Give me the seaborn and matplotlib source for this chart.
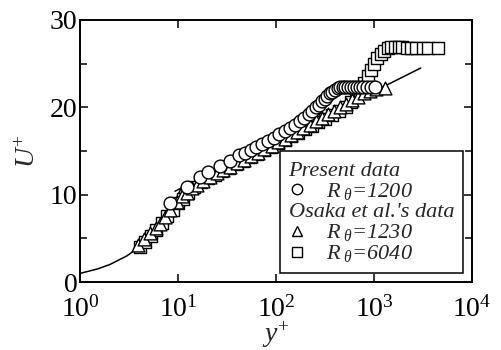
import numpy as np
import pandas as pd
import matplotlib
matplotlib.use("Agg")
import matplotlib.pyplot as plt
from matplotlib.lines import Line2D
from matplotlib.ticker import MultipleLocator, NullLocator, FixedLocator
import seaborn as sns

# data
visc_y = [1.0, 1.5, 2.0, 3.0, 4.0, 5.0, 6.0, 7.0, 8.0, 9.0, 10.0, 11.0]
visc_u = [1.0, 1.5, 2.0, 3.0, 4.0, 5.0, 6.0, 7.0, 8.0, 9.0, 10.0, 11.0]

log_y = [9.3, 3000.0]
log_u = [10.4, 24.5]

circ_y = [8.3, 12.3, 16.7, 20.4, 26.8, 34, 41.5, 48, 55, 63, 72, 82, 95, 108, 122,
          138, 155, 175, 195, 215, 235, 255, 275, 295, 315, 335, 355, 375, 400,
          425, 450, 480, 510, 545, 580, 620, 670, 720, 780, 850, 930, 1020]
circ_u = [9.1, 10.9, 12.0, 12.6, 13.3, 13.9, 14.5, 14.8, 15.1, 15.5, 15.8, 16.1,
          16.5, 16.9, 17.3, 17.6, 18.0, 18.4, 18.8, 19.2, 19.6, 20.0, 20.3, 20.7,
          21.0, 21.3, 21.6, 21.8, 22.0, 22.2, 22.3, 22.3, 22.3, 22.3, 22.3, 22.3,
          22.3, 22.3, 22.3, 22.3, 22.3, 22.3]

tri_y = [3.9, 4.5, 5.2, 5.9, 6.5, 7.4, 8.3, 9.7, 11, 12.3, 14, 15.5, 18, 21, 25, 29,
         34, 40, 47, 55, 65, 76, 90, 105, 122, 142, 165, 190, 220, 255, 295, 340,
         390, 450, 520, 600, 690, 790, 900, 1050, 1290]
tri_u = [4.2, 4.9, 5.6, 6.2, 6.7, 7.5, 8.2, 9.2, 9.8, 10.2, 10.8, 11.1, 11.6, 12.0,
         12.5, 12.8, 13.2, 13.6, 14.0, 14.4, 14.8, 15.2, 15.6, 16.0, 16.4, 16.8,
         17.2, 17.6, 18.0, 18.4, 18.8, 19.2, 19.6, 20.0, 20.4, 20.8, 21.2, 21.6,
         21.9, 22.1, 22.2]

sq_y = [4.1, 4.6, 5.3, 6.0, 6.8, 7.7, 8.8, 10, 11.2, 12.7, 14.5, 17, 20, 24, 28, 33,
        39, 46, 54, 64, 75, 88, 104, 122, 143, 168, 197, 231, 271, 318, 373, 437,
        513, 580, 650, 720, 790, 860, 930, 1000, 1080, 1170, 1270, 1380, 1500,
        1620, 1780, 1950, 2150, 2400, 2700, 3200, 3550, 4500]
sq_u = [4.0, 4.6, 5.3, 6.0, 6.8, 7.6, 8.3, 9.0, 9.5, 10.2, 10.9, 11.4, 11.9, 12.3,
        12.7, 13.1, 13.5, 13.9, 14.3, 14.7, 15.1, 15.5, 15.9, 16.3, 16.7, 17.1,
        17.5, 17.9, 18.3, 18.7, 19.1, 19.6, 20.0, 20.6, 21.3, 22.0, 22.8, 23.6,
        24.3, 25.0, 25.6, 26.1, 26.5, 26.8, 26.9, 26.9, 26.9, 26.9, 26.8, 26.8,
        26.8, 26.8, 26.8, 26.8]

x_ticks = [1, 10, 100, 1000, 10000]

sns.set_theme(style="ticks")
plt.rcParams['font.family'] = ['Liberation Serif', 'DejaVu Serif']
plt.rcParams['mathtext.fontset'] = 'custom'
plt.rcParams['mathtext.rm'] = 'Liberation Serif'
plt.rcParams['mathtext.it'] = 'Liberation Serif:italic'
plt.rcParams['mathtext.bf'] = 'Liberation Serif:bold'

fig = plt.figure(figsize=(5.01, 3.5), dpi=100)
ax = fig.add_axes([0.160, 0.194, 0.782, 0.749])

sns.lineplot(x=visc_y, y=visc_u, ax=ax, color='black', lw=1.1, sort=False, estimator=None)
sns.lineplot(x=log_y, y=log_u, ax=ax, color='black', lw=1.1, sort=False, estimator=None)

mk = dict(facecolor='white', edgecolor='black', linewidth=1.0, s=85, ax=ax, zorder=3)
sns.scatterplot(x=sq_y, y=sq_u, marker='s', **mk)
sns.scatterplot(x=tri_y, y=tri_u, marker='^', **mk)
sns.scatterplot(x=circ_y, y=circ_u, marker='o', **mk)

ax.set_xscale('log')
ax.set_xlim(1, 1e4)
ax.set_ylim(0, 30)
ax.xaxis.set_major_locator(FixedLocator(x_ticks))
ax.xaxis.set_minor_locator(NullLocator())
ax.yaxis.set_major_locator(MultipleLocator(10))
ax.yaxis.set_minor_locator(MultipleLocator(5))
ax.tick_params(which='both', direction='in', top=True, right=True, width=1.1,
               labelsize=20, colors='black')
ax.tick_params(axis='y', pad=2)
ax.tick_params(axis='x', pad=10)
ax.tick_params(which='major', length=6)
ax.tick_params(which='minor', length=5)
for sp in ax.spines.values():
    sp.set_linewidth(1.4)
    sp.set_color('black')

ax.set_xlabel(r'$y^{+}$', fontsize=20, labelpad=-2)
ax.set_ylabel(r'$U^{+}$', fontsize=20, labelpad=6)

blank = Line2D([], [], linestyle='none', marker=None)
mkl = dict(linestyle='none', markerfacecolor='white', markeredgecolor='black',
           markeredgewidth=1.0, markersize=7.5, color='black')
handles = [blank, Line2D([], [], marker='o', **mkl), blank,
           Line2D([], [], marker='^', **mkl), Line2D([], [], marker='s', **mkl)]
labels = ['Present data', r'$R_{\ \theta}$=1200', "Osaka et al.'s data",
          r'$R_{\ \theta}$=1230', r'$R_{\ \theta}$=6040']
leg = ax.legend(handles, labels, loc='lower right', bbox_to_anchor=(0.977, 0.034),
                prop={'family': 'Liberation Serif', 'style': 'italic', 'size': 16},
                frameon=True, fancybox=False, edgecolor='black', framealpha=1,
                handlelength=0.8, handletextpad=0.9, labelspacing=0.0,
                borderpad=0.4, borderaxespad=0)
leg.get_frame().set_linewidth(1.1)
header_rows = {0, 2}
rows = leg._legend_handle_box.get_children()[0].get_children()
for i, hp in enumerate(rows):
    if i in header_rows:
        hp.sep = 0
        hp.get_children()[0].set_width(0)

fig.savefig('out.png', dpi=100)
